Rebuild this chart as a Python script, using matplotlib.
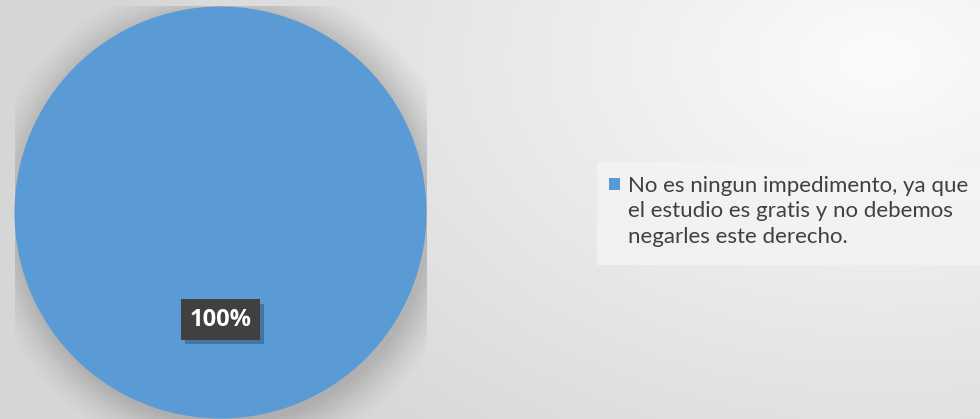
#!/usr/bin/env python3
"""Single-slice pie chart with a wrapped legend entry."""

import matplotlib.patheffects as pe
import matplotlib.pyplot as plt
import numpy as np
from matplotlib.patches import Circle, Rectangle

# ------------------------------ data ----------------------------------------
categories = [
    "No es ningun impedimento, ya que\n"
    "el estudio es gratis y no debemos\n"
    "negarles este derecho."
]
values = [100]
colors = ["#5B9BD5"]

W, H, DPI = 980, 419, 100

plt.rcParams["font.family"] = ["Lato", "DejaVu Sans"]

fig = plt.figure(figsize=(W / DPI, H / DPI), dpi=DPI)


def fx(px):
    return px / W


def fy(py):
    # pixel row (from top) -> figure fraction
    return 1 - py / H


# ---------------------- background gradient --------------------------------
bg = fig.add_axes([0, 0, 1, 1], zorder=-10)
yy, xx = np.mgrid[0:H, 0:W]
d = np.sqrt(((xx - 880) / 900.0) ** 2 + ((yy - 60) / 600.0) ** 2)
shade = np.clip(0.985 - 0.17 * d, 0.84, 0.985)
bg.imshow(np.dstack([shade] * 3), extent=[0, W, H, 0], aspect="auto")
bg.set_axis_off()

# --------------------------- pie -------------------------------------------
cx, cy, r = 220.5, 212.5, 206
ax = fig.add_axes([(cx - r) / W, (H - cy - r) / H, 2 * r / W, 2 * r / H])

# soft shadow around the pie
for k, a in zip(np.linspace(1.18, 1.0, 12), np.linspace(0.015, 0.05, 12)):
    ax.add_patch(Circle((0.02, -0.03), k, color="#6f6f6f", alpha=a, lw=0, zorder=0))

wedges, texts, autotexts = ax.pie(
    values,
    colors=colors,
    startangle=90,
    autopct="%1.0f%%",
    pctdistance=0.52,
    radius=1.0,
    wedgeprops=dict(linewidth=0),
)
for t in autotexts:
    t.set_color("white")
    t.set_fontfamily(["Open Sans", "DejaVu Sans"])
    t.set_fontsize(17)
    t.set_fontweight("bold")
    t.set_bbox(dict(boxstyle="square,pad=0.35", facecolor="#404040",
                    edgecolor="none"))
    t.get_bbox_patch().set_path_effects(
        [pe.SimplePatchShadow(offset=(3, -3), shadow_rgbFace="#2a4a6a", alpha=0.45),
         pe.Normal()]
    )
ax.set_xlim(-1, 1)
ax.set_ylim(-1, 1)
ax.set_aspect("equal")
ax.set_axis_off()

# --------------------------- legend -----------------------------------------
fig.patches.append(
    Rectangle((fx(597), fy(265)), fx(980 - 597), (265 - 162) / H,
              transform=fig.transFigure, facecolor="#f4f4f4", alpha=0.8,
              edgecolor="none", zorder=1)
)
fig.patches.append(
    Rectangle((fx(609), fy(190)), fx(11), 12 / H, transform=fig.transFigure,
              facecolor=colors[0], edgecolor="none", zorder=2)
)
fig.text(fx(628), fy(176), categories[0], ha="left", va="top",
         fontsize=16, color="#404040", linespacing=1.33, zorder=3)

fig.savefig("out.png", dpi=DPI)
